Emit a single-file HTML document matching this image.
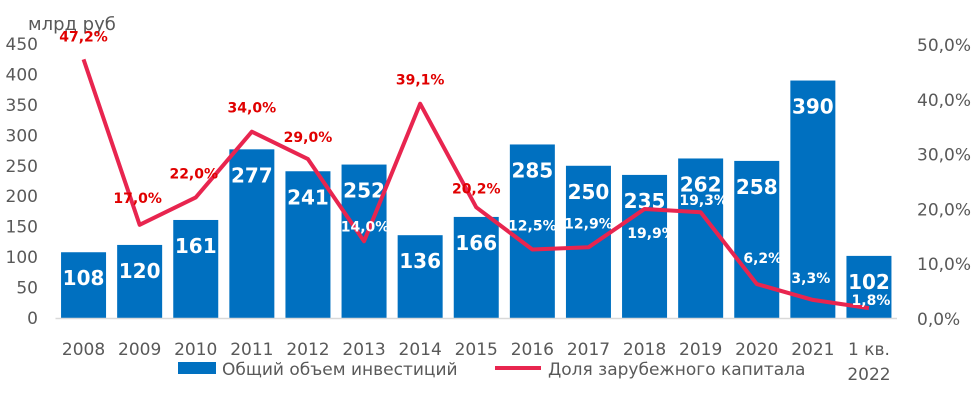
<!DOCTYPE html>
<html><head><meta charset="utf-8"><style>
body{margin:0;background:#fff;}
svg{display:block;font-family:"DejaVu Sans","Liberation Sans",sans-serif;}
</style></head><body>
<svg id="chart" width="974" height="405" viewBox="0 0 974 405"></svg>
<script>
const categories=["2008","2009","2010","2011","2012","2013","2014","2015","2016","2017","2018","2019","2020","2021","1 кв.|2022"];
const investValues=[108,120,161,277,241,252,136,166,285,250,235,262,258,390,102];
const foreignShare=[47.2,17.0,22.0,34.0,29.0,14.0,39.1,20.2,12.5,12.9,19.9,19.3,6.2,3.3,1.8];
const leftTicks=[0,50,100,150,200,250,300,350,400,450];
const rightTicks=[0,10,20,30,40,50];
// label style offsets (not data)
const shareLabelOffsets=[[0,-23],[-2,-27],[-2,-24],[0,-24],[0,-22],[1,-15],[0,-24],[0,-19],[0,-24],[0,-24],[7,24],[3,-12],[6,-26],[-2,-22],[2,-8]];
const shareLabelRed=[1,1,1,1,1,0,1,1,0,0,0,0,0,0,0];
const NS="http://www.w3.org/2000/svg";
const svg=document.getElementById('chart');
const x0=55.5,step=56.1,barW=45,base=318,plotTop=44;
const xc=i=>x0+step*(i+0.5);
const yL=v=>base-(v/450)*(base-plotTop);
const yR=v=>base-(v/50)*(base-plotTop);
function mk(t,a,p){const e=document.createElementNS(NS,t);for(const k in a)e.setAttribute(k,a[k]);(p||svg).appendChild(e);return e;}
let t=mk('text',{x:28,y:30,'font-size':18,fill:'#595959'});t.textContent='млрд руб';


leftTicks.forEach(v=>{const e=mk('text',{x:38,y:yL(v)+6,'font-size':17,fill:'#595959','text-anchor':'end'});e.textContent=v;

});
rightTicks.forEach(v=>{const e=mk('text',{x:917,y:yR(v)+7,'font-size':17,fill:'#595959'});e.textContent=v.toFixed(1).replace('.',',')+'%';

});
investValues.forEach((v,i)=>{const r=mk('rect',{x:xc(i)-barW/2,y:yL(v),width:barW,height:base-yL(v),fill:'#0070c0'});

});
const ax=mk('line',{x1:x0,x2:x0+step*15,y1:base+0.5,y2:base+0.5,stroke:'#d9d9d9','stroke-width':1.5});


investValues.forEach((v,i)=>{const e=mk('text',{x:xc(i),y:yL(v)+33,'font-size':20,'font-weight':'bold',fill:'#fff','text-anchor':'middle'});e.textContent=v;

});
const pts=foreignShare.map((v,i)=>xc(i)+','+yR(v)).join(' ');
const pl=mk('polyline',{points:pts,fill:'none',stroke:'#e8254f','stroke-width':4,'stroke-linejoin':'round'});


foreignShare.forEach((v,i)=>{const o=shareLabelOffsets[i];const e=mk('text',{x:xc(i)+o[0],y:yR(v)+o[1]+5,'font-size':14,'font-weight':'bold',fill:shareLabelRed[i]?'#e00000':'#fff','text-anchor':'middle'});e.textContent=v.toFixed(1).replace('.',',')+'%';

});
categories.forEach((c,i)=>{const parts=c.split('|');parts.forEach((p,j)=>{const e=mk('text',{x:xc(i),y:355+j*25,'font-size':17,fill:'#595959','text-anchor':'middle'});e.textContent=p;

});});
const g=mk('g',{});


mk('rect',{x:178,y:362,width:38,height:12,fill:'#0070c0'},g);
let l1=mk('text',{x:222,y:375,'font-size':17,fill:'#595959'},g);l1.textContent='Общий объем инвестиций';
mk('line',{x1:495,x2:541,y1:368,y2:368,stroke:'#e8254f','stroke-width':4},g);
let l2=mk('text',{x:548,y:375,'font-size':17,fill:'#595959'},g);l2.textContent='Доля зарубежного капитала';
</script>
</body></html>
